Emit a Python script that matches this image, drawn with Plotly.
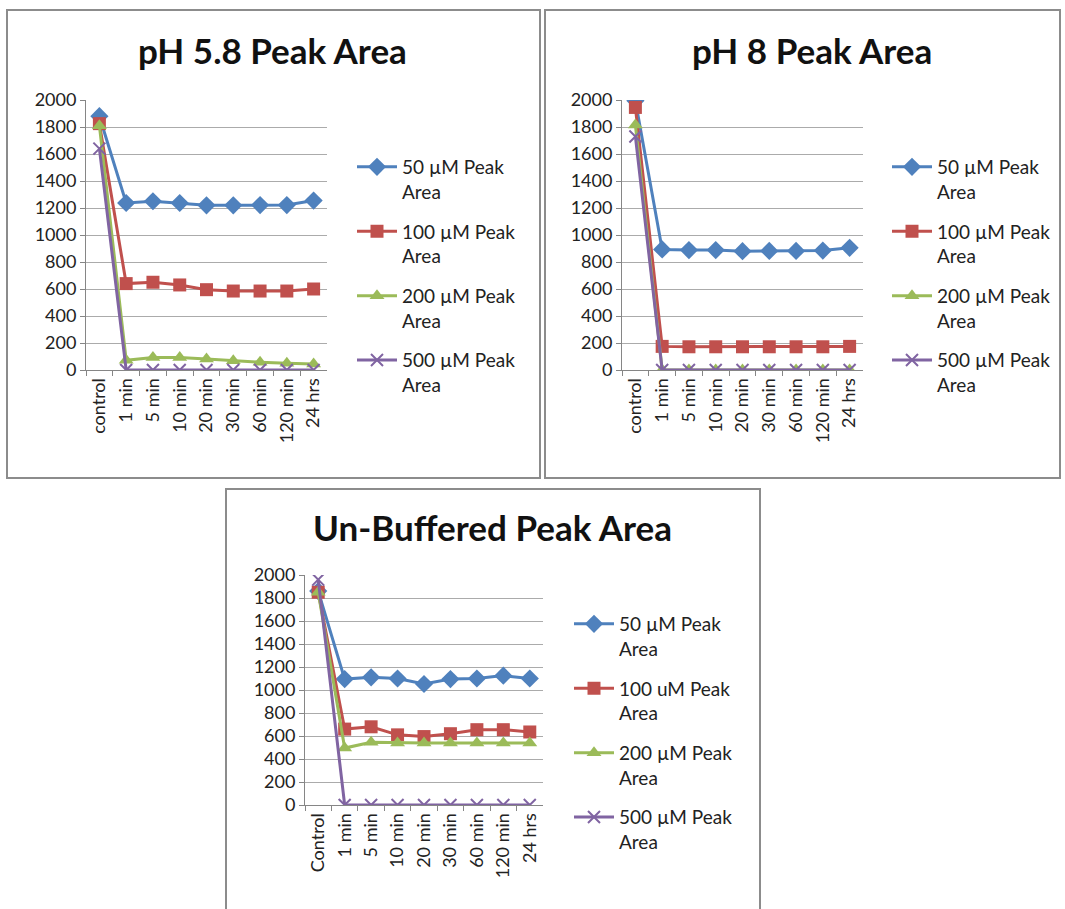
import plotly.graph_objects as go

# Sampling times (x categories)
categories = ["control", "1 min", "5 min", "10 min", "20 min", "30 min", "60 min", "120 min", "24 hrs"]
categories_unbuffered = ["Control", "1 min", "5 min", "10 min", "20 min", "30 min", "60 min", "120 min", "24 hrs"]

# pH 5.8 peak areas
ph58_50 = [1880, 1237, 1250, 1237, 1220, 1220, 1222, 1222, 1255]
ph58_100 = [1825, 640, 650, 630, 595, 585, 585, 585, 600]
ph58_200 = [1810, 72, 92, 93, 82, 68, 58, 50, 44]
ph58_500 = [1640, 0, 0, 0, 0, 0, 0, 0, 0]

# pH 8 peak areas
ph8_50 = [1995, 893, 888, 888, 880, 882, 882, 885, 905]
ph8_100 = [1945, 175, 172, 172, 172, 172, 172, 172, 175]
ph8_200 = [1815, 0, 0, 0, 0, 0, 0, 0, 0]
ph8_500 = [1730, 0, 0, 0, 0, 0, 0, 0, 0]

# Un-buffered peak areas
unbuf_50 = [1860, 1095, 1110, 1100, 1052, 1095, 1100, 1125, 1100]
unbuf_100 = [1850, 660, 680, 610, 595, 620, 655, 655, 635]
unbuf_200 = [1850, 495, 545, 540, 540, 540, 540, 540, 540]
unbuf_500 = [1960, 0, 0, 0, 0, 0, 0, 0, 0]

names_top = ["50 µM Peak<br>Area", "100 µM Peak<br>Area", "200 µM Peak<br>Area", "500 µM Peak<br>Area"]
names_bottom = ["50 µM Peak<br>Area", "100 uM Peak<br>Area", "200 µM Peak<br>Area", "500 µM Peak<br>Area"]

colors = ["#4F81BD", "#C0504D", "#9BBB59", "#8064A2"]
symbols = ["diamond", "square", "triangle-up", "x-thin-open"]
sizes = [14, 13, 13, 12]

FONT = "Lato, 'Open Sans', sans-serif"
W, H = 1065, 909


def px_x(v):
    return v / W


def px_y(v):
    return 1 - v / H


fig = go.Figure()

panels = [
    dict(x=categories, series=[ph58_50, ph58_100, ph58_200, ph58_500], names=names_top,
         xref="x", yref="y", legend="legend"),
    dict(x=categories, series=[ph8_50, ph8_100, ph8_200, ph8_500], names=names_top,
         xref="x2", yref="y2", legend="legend2"),
    dict(x=categories_unbuffered, series=[unbuf_50, unbuf_100, unbuf_200, unbuf_500], names=names_bottom,
         xref="x3", yref="y3", legend="legend3"),
]

for p_i, p in enumerate(panels):
    for s_i, ys in enumerate(p["series"]):
        marker = dict(symbol=symbols[s_i], size=sizes[s_i], color=colors[s_i])
        if symbols[s_i] == "x-thin-open":
            marker["line"] = dict(color=colors[s_i], width=2)
        fig.add_trace(go.Scatter(
            x=p["x"], y=ys, name=p["names"][s_i],
            mode="lines+markers",
            line=dict(color=colors[s_i], width=3),
            marker=marker,
            xaxis=p["xref"], yaxis=p["yref"],
            legend=p["legend"], legendgroup=f"g{p_i}_{s_i}",
        ))

axis_common_x = dict(
    type="category", range=[-0.5, 8.5], showgrid=False,
    showline=True, linecolor="#868686", linewidth=1,
    ticks="outside", ticklen=5, tickcolor="#868686", tickson="boundaries",
    tickangle=-90, tickfont=dict(family=FONT, size=18, color="#222"),
    fixedrange=True, automargin=False,
)
axis_common_y = dict(
    range=[0, 2000], dtick=200, showgrid=True, gridcolor="#ABABAB", gridwidth=1,
    showline=True, linecolor="#868686", linewidth=1, zeroline=False,
    ticks="outside", ticklen=5, tickcolor="#868686",
    tickfont=dict(family=FONT, size=18, color="#222"), fixedrange=True, automargin=False,
)

legend_common = dict(
    font=dict(family=FONT, size=19, color="#222"),
    bgcolor="rgba(0,0,0,0)", tracegroupgap=12, valign="top",
    itemwidth=40, xanchor="left", yanchor="top",
)

fig.update_layout(
    width=W, height=H, margin=dict(l=0, r=0, t=0, b=0, pad=0, autoexpand=False),
    paper_bgcolor="white", plot_bgcolor="white",
    xaxis=dict(domain=[px_x(86), px_x(327)], anchor="y", **axis_common_x),
    yaxis=dict(domain=[px_y(370), px_y(100)], anchor="x", **axis_common_y),
    xaxis2=dict(domain=[px_x(622), px_x(863)], anchor="y2", **axis_common_x),
    yaxis2=dict(domain=[px_y(370), px_y(100)], anchor="x2", **axis_common_y),
    xaxis3=dict(domain=[px_x(305), px_x(543)], anchor="y3", **axis_common_x),
    yaxis3=dict(domain=[px_y(805), px_y(575)], anchor="x3", **axis_common_y),
    legend=dict(x=px_x(352), y=px_y(148), **legend_common),
    legend2=dict(x=px_x(887), y=px_y(148), **legend_common),
    legend3=dict(x=px_x(569), y=px_y(605), **legend_common),
    showlegend=True,
)

# Chart frames
frames = [(7, 10, 540, 478), (545, 10, 1060, 478), (226, 489, 760, 915)]
for x0, y0, x1, y1 in frames:
    fig.add_shape(type="rect", xref="paper", yref="paper",
                  x0=px_x(x0), x1=px_x(x1), y0=px_y(y1), y1=px_y(y0),
                  line=dict(color="#8C8C8C", width=2), fillcolor="rgba(0,0,0,0)", layer="below")

# Chart titles
titles = [("pH 5.8 Peak Area", 272, 50), ("pH 8 Peak Area", 812, 50), ("Un-Buffered Peak Area", 492, 527)]
for text, cx, cy in titles:
    fig.add_annotation(text=f"<b>{text}</b>", xref="paper", yref="paper",
                       x=px_x(cx), y=px_y(cy), xanchor="center", yanchor="middle",
                       showarrow=False, font=dict(family=FONT, size=35, color="#111"))

fig.write_html("out.html")
